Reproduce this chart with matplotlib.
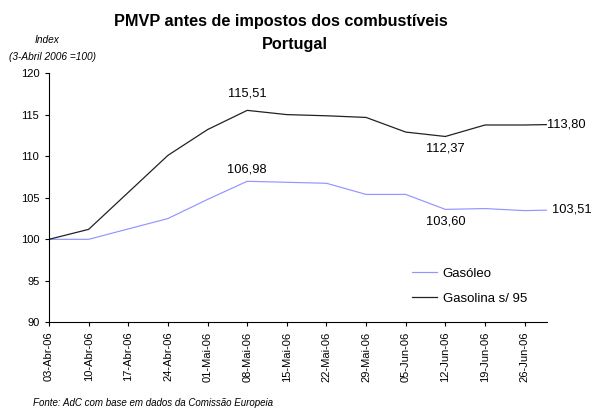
import matplotlib
matplotlib.use("Agg")
import matplotlib.pyplot as plt
import numpy as np

plt.rcParams['font.family'] = ['Liberation Sans', 'DejaVu Sans']

# weekly observations (the 17-Abr value is missing in the source)
dates = np.array(['2006-04-03', '2006-04-10', '2006-04-24', '2006-05-01', '2006-05-08',
                  '2006-05-15', '2006-05-22', '2006-05-29', '2006-06-05', '2006-06-12',
                  '2006-06-19', '2006-06-26', '2006-06-30'], dtype='datetime64[D]')
gasoleo = [100.0, 100.0, 102.5, 104.8, 106.98, 106.86, 106.74, 105.4, 105.4, 103.60,
           103.7, 103.45, 103.51]
gasolina = [100.0, 101.2, 110.1, 113.2, 115.51, 115.0, 114.86, 114.66, 112.9, 112.37,
            113.75, 113.75, 113.80]

tick_dates = np.arange(np.datetime64('2006-04-03'), np.datetime64('2006-06-27'), 7)
tick_labels = ['03-Abr-06', '10-Abr-06', '17-Abr-06', '24-Abr-06', '01-Mai-06', '08-Mai-06',
               '15-Mai-06', '22-Mai-06', '29-Mai-06', '05-Jun-06', '12-Jun-06', '19-Jun-06',
               '26-Jun-06']

# (index, text, dx, dy, ha) for the value labels
gasolina_notes = [(4, '115,51', 0, 12, 'center'), (9, '112,37', 0, -8.5, 'center'),
                  (12, '113,80', 0, 0, 'left')]
gasoleo_notes = [(4, '106,98', 0, 8.5, 'center'), (9, '103,60', 0, -8.5, 'center'),
                 (12, '103,51', 3.5, 0.5, 'left')]

fig = plt.figure(figsize=(5.91, 4.15), dpi=100)
ax = fig.add_axes([0.083, 0.223, 0.843, 0.601])

d = dates.astype('datetime64[ms]').astype(object)
ax.plot(d, gasoleo, color='#9494ff', lw=0.85, label='Gasóleo')
ax.plot(d, gasolina, color='#222222', lw=0.9, label='Gasolina s/ 95')

for i, txt, dx, dy, ha in gasolina_notes:
    ax.annotate(txt, (d[i], gasolina[i]), xytext=(dx, dy), textcoords='offset points',
                ha=ha, va='center', fontsize=9.3)
for i, txt, dx, dy, ha in gasoleo_notes:
    ax.annotate(txt, (d[i], gasoleo[i]), xytext=(dx, dy), textcoords='offset points',
                ha=ha, va='center', fontsize=9.3)

ax.set_xlim(d[0], d[-1])
ax.set_ylim(90, 120)
ax.set_yticks(range(90, 121, 5))
ax.set_xticks(tick_dates.astype('datetime64[ms]').astype(object))
ax.set_xticklabels(tick_labels, rotation=90, fontsize=8)
ax.tick_params(axis='y', labelsize=8, length=3, width=0.8, pad=4)
ax.tick_params(axis='x', length=3, width=0.8)
ax.spines['top'].set_visible(False)
ax.spines['right'].set_visible(False)

ax.legend(loc='center left', bbox_to_anchor=(0.729, 0.145), frameon=False, fontsize=9.5,
          handlelength=1.9, handletextpad=0.4, labelspacing=0.95, borderpad=0,
          borderaxespad=0)

fig.text(0.475, 0.947, 'PMVP antes de impostos dos combustíveis', ha='center',
         va='center', fontsize=11.7, fontweight='bold')
fig.text(0.499, 0.892, 'Portugal', ha='center', va='center', fontsize=11.7,
         fontweight='bold')
fig.text(0.08, 0.903, 'Index', ha='center', va='center', fontsize=7.3, style='italic')
fig.text(0.089, 0.862, '(3-Abril 2006 =100)', ha='center', va='center', fontsize=7.3,
         style='italic')
fig.text(0.056, 0.028, 'Fonte: AdC com base em dados da Comissão Europeia', ha='left',
         va='center', fontsize=7, style='italic')

fig.savefig('out.png', dpi=100)
